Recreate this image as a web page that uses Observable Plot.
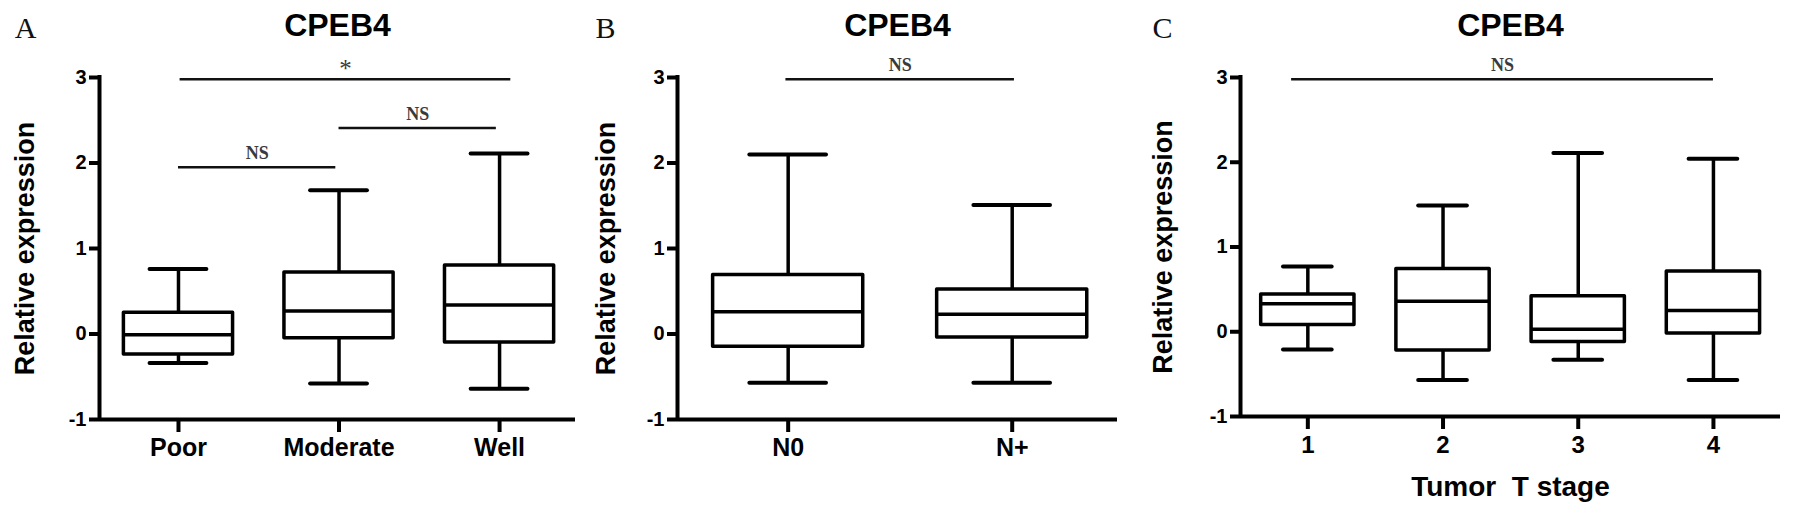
<!DOCTYPE html>
<html>
<head>
<meta charset="utf-8">
<script src="https://cdn.jsdelivr.net/npm/d3@7"></script>
<script src="https://cdn.jsdelivr.net/npm/@observablehq/plot@0.6"></script>
<style>
  html, body { margin: 0; padding: 0; background: #ffffff; }
  #fig { display: flex; width: 1795px; height: 516px; overflow: hidden; }
  #fig svg { overflow: visible; }
</style>
</head>
<body>
<div id="fig"></div>
<script>
// ---------- data ----------
const titleText = "CPEB4";
const yTitle = "Relative expression";
const yTicks = [-1, 0, 1, 2, 3];

// Panel A: differentiation
const catsA = ["Poor", "Moderate", "Well"];
const minA = [-0.34, -0.58, -0.64];
const q1A  = [-0.24, -0.05, -0.10];
const medA = [-0.01, 0.27, 0.34];
const q3A  = [0.25, 0.72, 0.80];
const maxA = [0.76, 1.68, 2.11];
const sigFromA  = [0, 1, 0.01];
const sigToA    = [0.98, 1.98, 2.07];
const sigYA     = [1.95, 2.41, 2.98];
const sigLabelA = ["NS", "NS", "*"];

// Panel B: lymph node status
const catsB = ["N0", "N+"];
const minB = [-0.57, -0.57];
const q1B  = [-0.15, -0.04];
const medB = [0.26, 0.23];
const q3B  = [0.69, 0.52];
const maxB = [2.10, 1.51];
const sigFromB  = [-0.01];
const sigToB    = [1.01];
const sigYB     = [2.98];
const sigLabelB = ["NS"];

// Panel C: tumor T stage
const catsC = ["1", "2", "3", "4"];
const minC = [-0.21, -0.57, -0.33, -0.57];
const q1C  = [0.08, -0.22, -0.12, -0.02];
const medC = [0.33, 0.36, 0.03, 0.25];
const q3C  = [0.44, 0.74, 0.42, 0.71];
const maxC = [0.77, 1.49, 2.11, 2.04];
const sigFromC  = [-0.12];
const sigToC    = [3.0];
const sigYC     = [2.98];
const sigLabelC = ["NS"];
const xTitleC = "Tumor  T stage";

// ---------- drawing ----------
const SANS = "'Liberation Sans', Arial, Helvetica, sans-serif";
const SERIF = "'Liberation Serif', 'Times New Roman', Times, serif";

function panel(cfg) {
  const rows = cfg.cats.map((c, i) => ({
    i, cat: c, min: cfg.mins[i], q1: cfg.q1s[i], med: cfg.meds[i], q3: cfg.q3s[i], max: cfg.maxs[i]
  }));
  const sigs = cfg.sigFrom.map((f, k) => ({
    from: f, to: cfg.sigTo[k], y: cfg.sigY[k], label: cfg.sigLabel[k]
  }));
  const bh = cfg.boxHalf, ch = cfg.capHalf;
  const marks = [
    Plot.ruleX(rows, {x: "i", y1: "q3", y2: "max", stroke: "#000", strokeWidth: 3.5}),
    Plot.ruleX(rows, {x: "i", y1: "min", y2: "q1", stroke: "#000", strokeWidth: 3.5}),
    Plot.ruleY(rows, {y: "max", x1: d => d.i - ch, x2: d => d.i + ch, stroke: "#000", strokeWidth: 4, strokeLinecap: "round"}),
    Plot.ruleY(rows, {y: "min", x1: d => d.i - ch, x2: d => d.i + ch, stroke: "#000", strokeWidth: 4, strokeLinecap: "round"}),
    Plot.rect(rows, {x1: d => d.i - bh, x2: d => d.i + bh, y1: "q1", y2: "q3", fill: "#fff", stroke: "#000", strokeWidth: 3.5, strokeLinejoin: "round"}),
    Plot.ruleY(rows, {y: "med", x1: d => d.i - bh, x2: d => d.i + bh, stroke: "#000", strokeWidth: 3.5}),
    Plot.ruleY(sigs, {y: "y", x1: "from", x2: "to", stroke: "#111", strokeWidth: 2.5}),
    Plot.text(sigs.filter(d => d.label !== "*"), {x: d => (d.from + d.to) / 2, y: "y", text: "label", dy: -14, fontFamily: SERIF, fontWeight: "bold", fontSize: 18, fill: "#3a3a3a"}),
    Plot.text(sigs.filter(d => d.label === "*"), {x: d => (d.from + d.to) / 2, y: "y", text: "label", dy: -10, fontFamily: SERIF, fontSize: 25, fill: "#3a3a3a"}),
    Plot.ruleX([cfg.xDomain[0]], {y1: yTicks[0], y2: yTicks[yTicks.length - 1], stroke: "#000", strokeWidth: 4, strokeLinecap: "square"}),
    Plot.ruleY([yTicks[0]], {x1: cfg.xDomain[0], x2: cfg.xDomain[1], stroke: "#000", strokeWidth: 4}),
    Plot.axisY({ticks: yTicks, tickSize: 10, tickPadding: 3, strokeWidth: 4, fontSize: 20, fontWeight: "bold", fontFamily: SANS, fill: "#000", label: null, tickFormat: d => String(d)}),
    Plot.axisX({ticks: cfg.cats.map((c, i) => i), tickFormat: i => cfg.cats[i], tickSize: 13, tickPadding: 6, strokeWidth: 4, fontSize: cfg.tickFont, fontWeight: "bold", fontFamily: SANS, fill: "#000", label: null}),
    Plot.text([titleText], {frameAnchor: "top", lineAnchor: "middle", textAnchor: "middle", dy: -52, fontSize: 32, fontWeight: "bold", fontFamily: SANS, fill: "#000"}),
    Plot.text([cfg.letter], {frameAnchor: "top-left", lineAnchor: "middle", textAnchor: "middle", dx: cfg.letterDx, dy: -49, fontSize: 30, fontFamily: SERIF, fill: "#111"}),
    Plot.text([yTitle], {frameAnchor: "left", lineAnchor: "middle", textAnchor: "middle", dx: cfg.yTitleDx, rotate: -90, fontSize: 27, fontWeight: "bold", fontFamily: SANS, fill: "#000"})
  ];
  if (cfg.xTitle) {
    marks.push(Plot.text([cfg.xTitle], {frameAnchor: "bottom", lineAnchor: "middle", textAnchor: "middle", dy: 71, fontSize: 28, fontWeight: "bold", fontFamily: SANS, fill: "#000"}));
  }
  return Plot.plot({
    width: cfg.width,
    height: 516,
    marginLeft: cfg.marginLeft,
    marginRight: cfg.marginRight,
    marginTop: 77,
    marginBottom: cfg.marginBottom,
    style: {fontFamily: SANS, background: "transparent", overflow: "visible"},
    x: {type: "linear", domain: cfg.xDomain, axis: null},
    y: {type: "linear", domain: [yTicks[0], yTicks[yTicks.length - 1]], axis: null},
    marks
  });
}

const fig = document.getElementById("fig");
fig.append(panel({
  cats: catsA, mins: minA, q1s: q1A, meds: medA, q3s: q3A, maxs: maxA,
  sigFrom: sigFromA, sigTo: sigToA, sigY: sigYA, sigLabel: sigLabelA,
  width: 590, marginLeft: 99, marginRight: 15, marginBottom: 97,
  xDomain: [-0.492, 2.473], boxHalf: 0.34, capHalf: 0.177,
  letter: "A", letterDx: -74, yTitleDx: -74, tickFont: 25
}));
fig.append(panel({
  cats: catsB, mins: minB, q1s: q1B, meds: medB, q3s: q3B, maxs: maxB,
  sigFrom: sigFromB, sigTo: sigToB, sigY: sigYB, sigLabel: sigLabelB,
  width: 550, marginLeft: 87, marginRight: 23, marginBottom: 97,
  xDomain: [-0.494, 1.47], boxHalf: 0.335, capHalf: 0.171,
  letter: "B", letterDx: -72, yTitleDx: -71, tickFont: 25
}));
fig.append(panel({
  cats: catsC, mins: minC, q1s: q1C, meds: medC, q3s: q3C, maxs: maxC,
  sigFrom: sigFromC, sigTo: sigToC, sigY: sigYC, sigLabel: sigLabelC,
  width: 655, marginLeft: 100, marginRight: 15, marginBottom: 100,
  xDomain: [-0.498, 3.496], boxHalf: 0.345, capHalf: 0.18,
  letter: "C", letterDx: -78, yTitleDx: -77, tickFont: 24, xTitle: xTitleC
}));
</script>
</body>
</html>
